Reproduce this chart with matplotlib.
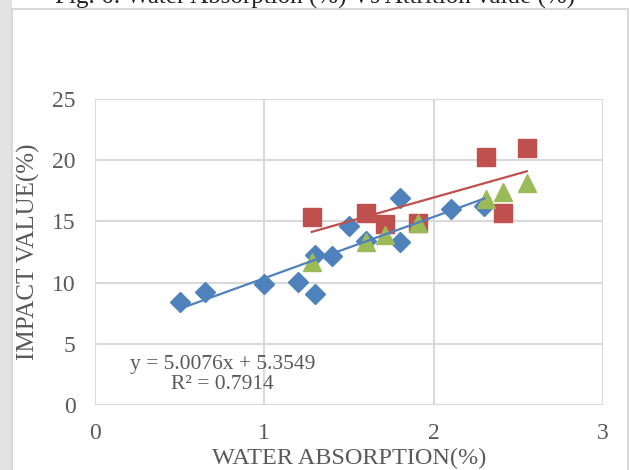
import numpy as np
import matplotlib
matplotlib.use('Agg')
import matplotlib.pyplot as plt
from matplotlib.patches import Rectangle

plt.rcParams['font.family'] = ['Liberation Serif', 'DejaVu Serif']

# Data
blue_x = [0.5, 0.65, 1.0, 1.2, 1.3, 1.3, 1.4, 1.5, 1.6, 1.8, 1.8, 2.1, 2.3]
blue_y = [8.45, 9.25, 9.85, 10.05, 9.1, 12.25, 12.2, 14.65, 13.4, 16.9, 13.3, 16.0, 16.25]

red_x = [1.28, 1.6, 1.71, 1.91, 2.31, 2.41, 2.55]
red_y = [15.35, 15.7, 14.8, 14.9, 20.3, 15.7, 21.0]

green_x = [1.28, 1.6, 1.71, 1.91, 2.31, 2.41, 2.55]
green_y = [11.7, 13.3, 13.9, 14.9, 16.8, 17.4, 18.1]

# trendline of the blue series as printed on the chart
blue_slope = 5.0076
blue_intercept = 5.3549
blue_r2 = 0.7914

x_ticks = [0, 1, 2, 3]
y_ticks = [0, 5, 10, 15, 20, 25]

c_blue = '#4F81BD'
c_red = '#C0504D'
c_green = '#9BBB59'
txt = '#595959'
grid = '#D9D9D9'

fig = plt.figure(figsize=(6.3, 4.7), dpi=100)

# left page shadow and chart frame
fig.patches.append(Rectangle((0, 0), 12 / 630, 1, transform=fig.transFigure,
                             facecolor='#E3E3E3', edgecolor='none', zorder=-2))
fig.patches.append(Rectangle((12 / 630, -0.01), 616 / 630, 1 - 9 / 470 + 0.01,
                             transform=fig.transFigure, facecolor='white',
                             edgecolor='#D9D9D9', linewidth=1.5, zorder=-1))

fig.text(0.5, 1 - 4 / 470, 'Fig. 6: Water Absorption (%) Vs Attrition value (%)',
         ha='center', va='baseline', fontsize=18, color='#222222')

ax = fig.add_axes([95 / 630, 1 - 405 / 470, 508 / 630, 306 / 470])
ax.set_zorder(2)
ax.patch.set_alpha(0)
ax.set_xlim(0, 3)
ax.set_ylim(0, 25)
ax.set_xticks(x_ticks)
ax.set_yticks(y_ticks)
for s in ax.spines.values():
    s.set_visible(False)
ax.grid(True, color=grid, linewidth=1.5)
ax.set_axisbelow(True)
ax.tick_params(length=0, labelsize=17, colors=txt)
ax.tick_params(axis='y', pad=14)
ax.tick_params(axis='x', pad=13)

ax.plot(blue_x, blue_y, 'D', color=c_blue, markersize=10, zorder=3)
ax.plot(red_x, red_y, 's', color=c_red, markersize=12.5, zorder=3)
ax.plot(green_x, green_y, '^', color=c_green, markersize=13, zorder=3)

# trendlines
bx = np.array([min(blue_x), max(blue_x)])
ax.plot(bx, blue_slope * bx + blue_intercept, color=c_blue, linewidth=1.6, zorder=4)
rp = np.polyfit(red_x, red_y, 1)
rx = np.array([min(red_x), max(red_x)])
ax.plot(rx, np.polyval(rp, rx), color=c_red, linewidth=1.6, zorder=4)

ax.text(0.755, 2.5, 'y = %.4fx + %.4f\nR² = %.4f' % (blue_slope, blue_intercept, blue_r2),
        ha='center', va='center', multialignment='center', fontsize=15.5, color=txt,
        linespacing=1.1)

ax.set_xlabel('WATER ABSORPTION(%)', fontsize=17.5, color=txt)
ax.set_ylabel('IMPACT VALUE(%)', fontsize=18, color=txt)
ax.xaxis.set_label_coords(0.5, -43 / 306)
ax.yaxis.set_label_coords(-55 / 508, 0.5)

fig.savefig('out.png', dpi=100)
